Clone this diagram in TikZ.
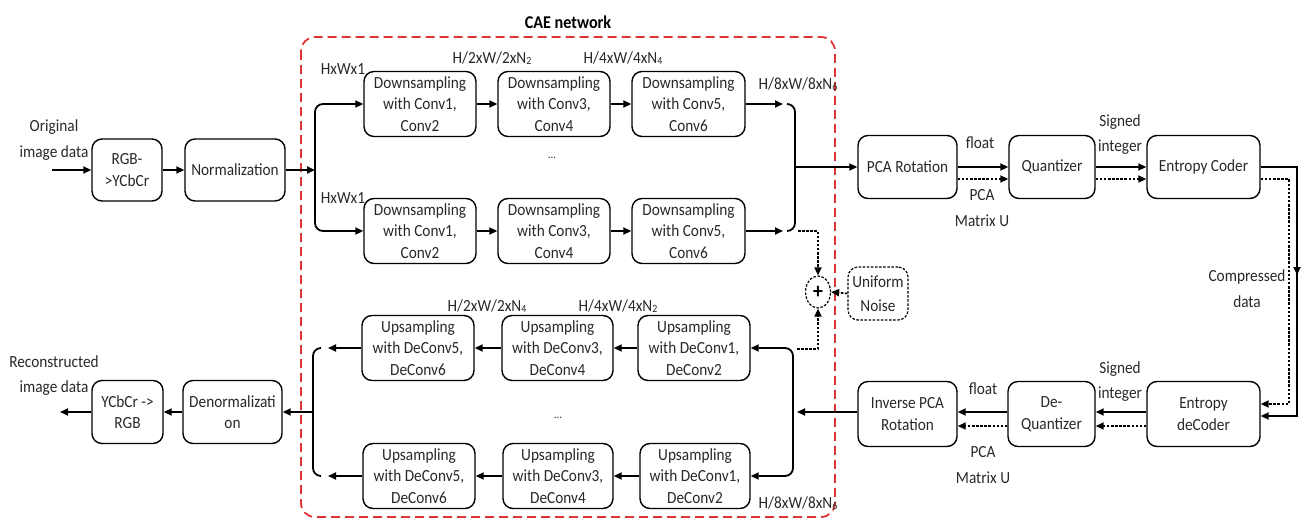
\documentclass[tikz,border=0pt]{standalone}
\usepackage{fontspec}
\setmainfont{Carlito}[FakeStretch=0.9]
\usetikzlibrary{arrows.meta,shapes.geometric}
\definecolor{caered}{RGB}{222,52,52}
\definecolor{ink}{RGB}{40,40,40}
% small lowered digit used in the tensor-size labels
\newcommand{\lowdig}[1]{\raisebox{-0.8pt}{\fontsize{11}{11}\selectfont #1}}

\begin{document}
\begin{tikzpicture}[x=1pt,y=-1pt,
  font=\fontsize{17}{21.5}\selectfont,
  block/.style={draw, line width=1.4pt, rounded corners=10pt, align=center,
                inner sep=0pt, minimum height=65pt, text=ink},
  lbl/.style={align=center, inner sep=0pt, text=ink, font=\fontsize{17}{25.5}\selectfont},
  solidline/.style={line width=1.8pt},
  arr/.style={line width=1.8pt, -{Triangle[length=8pt,width=7pt]}},
  dots/.style={line width=1.7pt, dash pattern=on 2.5pt off 1.6pt},
  darr/.style={dots, -{Triangle[length=8pt,width=7pt]}},
]
\useasboundingbox (0,0) rectangle (1305,519);

% ---- CAE network frame ----
\draw[caered, line width=1.8pt, dash pattern=on 9pt off 5pt, rounded corners=14pt]
  (301,37) rectangle (835,517);
\node[font=\fontsize{18}{18}\selectfont\bfseries] (title) at (568,22) {CAE network};

% ---- input side ----
\node[lbl] (srclbl) at (54,140) {Original\\image data};
\coordinate (src) at (52,170);
\node[block, minimum width=70pt, minimum height=62pt] (rgb) at (127,170) {RGB-\\>YCbCr};
\node[block, minimum width=100pt, minimum height=62pt] (norm) at (235,170) {Normalization};
\draw[arr] (src) -- (rgb.west);
\draw[arr] (rgb) -- (norm);

% ---- encoder branches ----
\node[block, minimum width=112pt] (d11) at (420,104) {Downsampling\\with Conv1,\\Conv2};
\node[block, minimum width=112pt] (d12) at (554,104) {Downsampling\\with Conv3,\\Conv4};
\node[block, minimum width=113pt] (d13) at (688.5,104) {Downsampling\\with Conv5,\\Conv6};
\node[block, minimum width=112pt] (d21) at (420,231) {Downsampling\\with Conv1,\\Conv2};
\node[block, minimum width=112pt] (d22) at (554,231) {Downsampling\\with Conv3,\\Conv4};
\node[block, minimum width=113pt] (d23) at (688.5,231) {Downsampling\\with Conv5,\\Conv6};

\coordinate (busin) at (315,170);
\draw[arr] (norm.east) -- (busin);
\draw[arr, rounded corners=8pt] (busin) |- (d11.west);
\draw[arr, rounded corners=8pt] (busin) |- (d21.west);
\draw[arr] (d11) -- (d12);
\draw[arr] (d12) -- (d13);
\draw[arr] (d21) -- (d22);
\draw[arr] (d22) -- (d23);

\coordinate (e1) at (783,104);
\coordinate (e2) at (783,231);
\coordinate (b1) at (787,104);
\coordinate (b2) at (787,231);
\coordinate (busout) at (795,167);
\draw[arr] (d13.east) -- (e1);
\draw[arr] (d23.east) -- (e2);
\draw[solidline, rounded corners=8pt] (b1) -| (busout) |- (b2);

\node[lbl] (s0a) at (343,69) {HxWx1};
\node[lbl] (s0b) at (343,198) {HxWx1};
\node[lbl] (s1) at (492,58) {H/2xW/2xN\lowdig{2}};
\node[lbl] (s2) at (623,58) {H/4xW/4xN\lowdig{4}};
\node[lbl] (s3) at (798,84) {H/8xW/8xN\lowdig{6}};
\node[lbl, font=\fontsize{12}{12}\selectfont] (dotsA) at (552,158) {...};

% ---- noise injection ----
\node[draw, ellipse, dots, line width=1.2pt, minimum width=25pt, minimum height=32pt,
      inner sep=0pt, font=\fontsize{22}{22}\selectfont\bfseries] (plus) at (818,292) {+};
\node[block, dots, line width=1.2pt, minimum width=60pt, minimum height=53pt,
      font=\fontsize{17}{24}\selectfont] (noise) at (878,293.5) {Uniform\\Noise};
\coordinate (tapA) at (798,231);
\coordinate (tapB) at (797,349);
\draw[darr] (tapA) -| (plus.north);
\draw[darr] (tapB) -| (plus.south);
\draw[darr] (noise.west) -- (plus.east);

% ---- coding chain ----
\node[block, minimum width=99pt, minimum height=63pt] (pca) at (907.5,167) {PCA Rotation};
\node[block, minimum width=86pt, minimum height=63pt] (quant) at (1052,167) {Quantizer};
\node[block, minimum width=113pt, minimum height=63pt] (ecod) at (1203.5,167) {Entropy Coder};
\draw[arr] (busout) -- (pca.west);
\draw[arr] (pca) -- (quant);
\draw[arr] (quant) -- (ecod);
\draw[darr] ([yshift=-12pt]pca.east) -- ([yshift=-12pt]quant.west);
\draw[darr] ([yshift=-12pt]quant.east) -- ([yshift=-12pt]ecod.west);
\node[lbl] (f1) at (980,143) {float};
\node[lbl] (m1) at (982,208) {PCA\\Matrix U};
\node[lbl] (i1) at (1120,134.5) {Signed\\integer};

\node[block, minimum width=99pt] (ipca) at (907.5,414) {Inverse PCA\\Rotation};
\node[block, minimum width=87pt] (dq) at (1051.5,414) {De-\\Quantizer};
\node[block, minimum width=113pt] (edec) at (1203.5,414) {Entropy\\deCoder};

\coordinate (rs) at (1297,300);
\coordinate (rd) at (1289,300);
\coordinate (mid1) at (1297,262);
\coordinate (mid2) at (1297,275);
\draw[arr] (ecod.east) -| (rs) |- ([yshift=-2pt]edec.east);
\draw[arr] (mid1) -- (mid2);
\draw[darr] ([yshift=-12pt]ecod.east) -| (rd) |- ([yshift=10pt]edec.east);
\node[lbl] (cd) at (1247,288.5) {Compressed\\data};

\draw[arr] ([yshift=2pt]edec.west) -- ([yshift=2pt]dq.east);
\draw[arr] ([yshift=2pt]dq.west) -- ([yshift=2pt]ipca.east);
\draw[darr] ([yshift=-12pt]edec.west) -- ([yshift=-12pt]dq.east);
\draw[darr] ([yshift=-12pt]dq.west) -- ([yshift=-12pt]ipca.east);
\node[lbl] (f2) at (983,389) {float};
\node[lbl] (m2) at (983,465) {PCA\\Matrix U};
\node[lbl] (i2) at (1120,381.5) {Signed\\integer};

% ---- decoder branches ----
\node[block, minimum width=112pt] (u11) at (418,348) {Upsampling\\with DeConv5,\\DeConv6};
\node[block, minimum width=111pt] (u12) at (557.5,348) {Upsampling\\with DeConv3,\\DeConv4};
\node[block, minimum width=112pt] (u13) at (694,348) {Upsampling\\with DeConv1,\\DeConv2};
\node[block, minimum width=112pt] (u21) at (419,476) {Upsampling\\with DeConv5,\\DeConv6};
\node[block, minimum width=110pt] (u22) at (558,476) {Upsampling\\with DeConv3,\\DeConv4};
\node[block, minimum width=110pt] (u23) at (695,476) {Upsampling\\with DeConv1,\\DeConv2};

\coordinate (rin) at (797,412);
\coordinate (rbus) at (793,412);
\draw[arr] ([yshift=2pt]ipca.west) -- (rin);
\draw[arr, rounded corners=8pt] (rbus) |- (u13.east);
\draw[arr, rounded corners=8pt] (rbus) |- (u23.east);
\draw[arr] (u13) -- (u12);
\draw[arr] (u12) -- (u11);
\draw[arr] (u23) -- (u22);
\draw[arr] (u22) -- (u21);

\coordinate (o1) at (328,348);
\coordinate (o2) at (328,476);
\coordinate (c1) at (321,348);
\coordinate (c2) at (321,476);
\coordinate (lbus) at (313,412);
\draw[arr] (u11.west) -- (o1);
\draw[arr] (u21.west) -- (o2);
\draw[solidline, rounded corners=8pt] (c1) -| (lbus) |- (c2);

\node[lbl] (s4) at (487,306) {H/2xW/2xN\lowdig{4}};
\node[lbl] (s5) at (618,306) {H/4xW/4xN\lowdig{2}};
\node[lbl] (s6) at (798,503) {H/8xW/8xN\lowdig{6}};
\node[lbl, font=\fontsize{12}{12}\selectfont] (dotsB) at (558,418) {...};

% ---- output side ----
\node[block, minimum width=99pt, minimum height=63pt] (denorm) at (232.5,412) {Denormalizati\\on};
\node[block, minimum width=71pt, minimum height=63pt] (ycc) at (127.5,412) {YCbCr ->\\RGB};
\coordinate (sink) at (60,412);
\draw[arr] (lbus) -- (denorm.east);
\draw[arr] (denorm) -- (ycc);
\draw[arr] (ycc.west) -- (sink);
\node[lbl] (snklbl) at (54,375.5) {Reconstructed\\image data};
\end{tikzpicture}
\end{document}
